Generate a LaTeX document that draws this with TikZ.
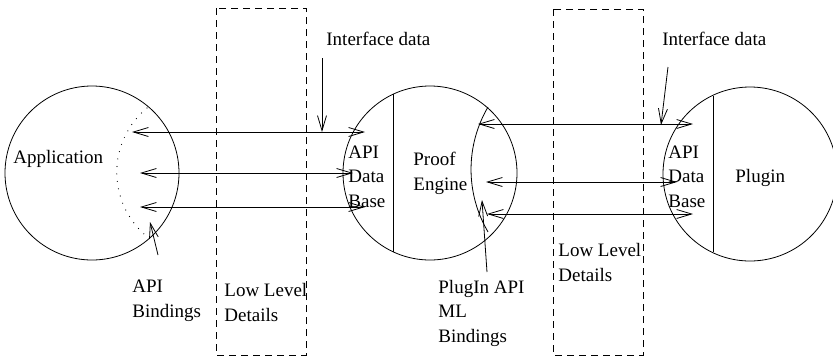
\documentclass[tikz,border=0pt]{standalone}
\usepackage{fontspec}
\setmainfont{Liberation Serif}
\usetikzlibrary{arrows.meta}

\begin{document}
\begin{tikzpicture}[x=1pt,y=-1pt,line width=0.8pt,
		txt/.style={align=left,anchor=base west,inner sep=0pt,font=\fontsize{19}{24.5}\selectfont},
		ball/.style={circle,draw,inner sep=0pt,minimum size=174pt},
		lowlevel/.style={draw,dash pattern=on 7pt off 5pt},
		onetip/.style={-{Straight Barb[length=15pt,width=9pt]}},
		twotips/.style={{Straight Barb[length=15pt,width=9pt]}-{Straight Barb[length=15pt,width=9pt]}}]
		\useasboundingbox (0,0) rectangle (833,357);

		% the three parties
		\node[ball] (app) at (92,173) {};
		\node[ball] (engine) at (430,173) {};
		\node[ball] (plugin) at (750,174) {};

		% low level layers
		\draw[lowlevel] (216,8) rectangle (306,355);
		\draw[lowlevel] (553,9) rectangle (643,355);

		% data base partitions and binding arcs
		\draw (393,94) -- (393,252);
		\draw (713,96) -- (713,252);
		\draw[line width=1.2pt,line cap=round,dash pattern=on 0pt off 7.5pt] (147,108) arc[start angle=230.4,end angle=129.6,radius=83.4];
		\draw (488,107) arc[start angle=210.4,end angle=149.6,radius=123.4];

		% labels (multi-line ones sit on their last line)
		\node[txt] (apptext) at (13,163) {Application};
		\node[txt] (englbl) at (413,190) {Proof\\Engine};
		\node[txt] (pluglbl) at (735,182) {Plugin};
		\node[txt] (db1) at (348,207) {API\\Data\\Base};
		\node[txt] (db2) at (668,207) {API\\Data\\Base};
		\node[txt] (if1) at (326,45) {Interface data};
		\node[txt] (if2) at (662,45) {Interface data};
		\node[txt] (apib) at (132,317) {API\\Bindings};
		\node[txt] (plugb) at (438,342) {PlugIn API\\ML\\Bindings};
		\node[txt] (low1) at (224,321) {Low Level\\Details};
		\node[txt] (low2) at (558,281) {Low Level\\Details};

		% calls between application and engine
		\foreach \i/\y/\xa/\xb in {1/132/132/365, 2/173/140/353, 3/207/140/365} {
			\coordinate (al\i) at (\xa,\y);
			\coordinate (ar\i) at (\xb,\y);
			\draw[twotips] (al\i) -- (ar\i);
		}
		% calls between engine and plugin
		\foreach \i/\y/\xa/\xb in {1/124/478/693, 2/182/486/677, 3/214/487/693} {
			\coordinate (pl\i) at (\xa,\y);
			\coordinate (pr\i) at (\xb,\y);
			\draw[twotips] (pl\i) -- (pr\i);
		}

		% pointers from the labels
		\coordinate (if1a) at (322,58);
		\coordinate (if1b) at (322,132);
		\coordinate (if2a) at (668,67);
		\coordinate (if2b) at (661,125);
		\coordinate (apiba) at (158,255);
		\coordinate (apibb) at (150,222);
		\coordinate (plugba) at (487,272);
		\coordinate (plugbb) at (482,200);
		\draw[onetip] (if1a) -- (if1b);
		\draw[onetip] (if2a) -- (if2b);
		\draw[onetip] (apiba) -- (apibb);
		\draw[onetip] (plugba) -- (plugbb);
\end{tikzpicture}
\end{document}
